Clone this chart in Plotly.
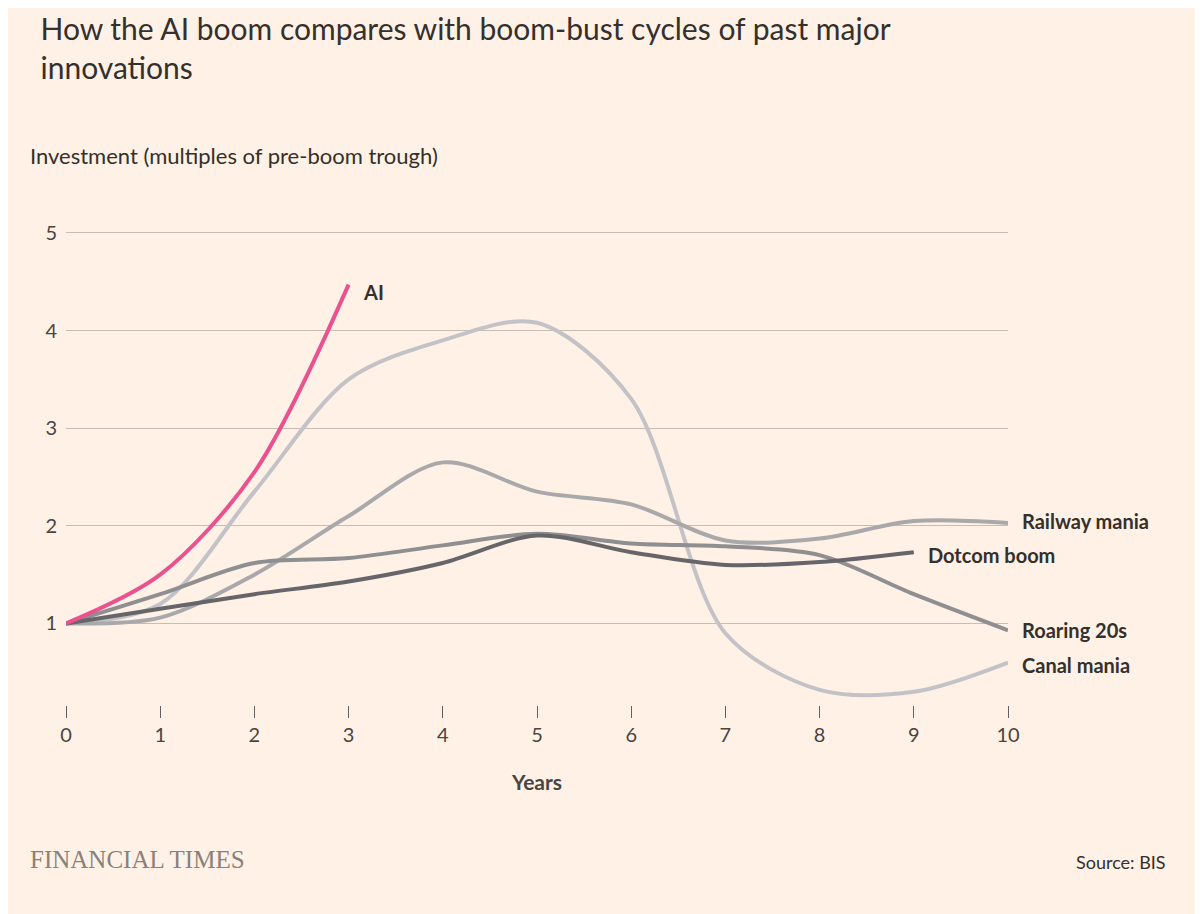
import plotly.graph_objects as go

years = list(range(11))
ai = [1, 1.5, 2.55, 4.47]
canal = [1, 1.2, 2.35, 3.5, 3.9, 4.08, 3.3, 0.9, 0.32, 0.3, 0.6]
railway = [1, 1.06, 1.5, 2.1, 2.65, 2.35, 2.22, 1.85, 1.87, 2.05, 2.03]
roaring = [1, 1.3, 1.62, 1.67, 1.8, 1.92, 1.82, 1.79, 1.7, 1.3, 0.93]
dotcom = [1, 1.15, 1.3, 1.43, 1.62, 1.9, 1.73, 1.6, 1.63, 1.73]

series = [
    ("Canal mania", canal, "#c3c3c7"),
    ("Railway mania", railway, "#a9a9ab"),
    ("Roaring 20s", roaring, "#8f8f92"),
    ("Dotcom boom", dotcom, "#66666a"),
    ("AI", ai, "#e9528f"),
]
label_y = {"Canal mania": 0.57, "Railway mania": 2.05, "Roaring 20s": 0.93,
           "Dotcom boom": 1.7, "AI": 4.4}

fig = go.Figure()
for name, vals, col in series:
    fig.add_trace(go.Scatter(x=years[:len(vals)], y=vals, mode="lines",
                             line=dict(color=col, width=4, shape="spline", smoothing=0.9),
                             hoverinfo="skip", showlegend=False))
    fig.add_annotation(x=len(vals) - 1, y=label_y[name], text="<b>" + name + "</b>",
                       xanchor="left", showarrow=False, xshift=12,
                       font=dict(size=20, color="#33302e"))

fig.update_layout(
    width=1203, height=914, paper_bgcolor="#fff1e5", plot_bgcolor="#fff1e5",
    font=dict(family="Lato, Open Sans, sans-serif", color="#33302e"),
    margin=dict(l=58, r=203, t=222, b=217),
    title=dict(text="How the AI boom compares with boom-bust cycles of past major<br>innovations",
               x=0.027, xanchor="left", y=0.965, yanchor="top",
               font=dict(size=30, color="#33302e")),
    xaxis=dict(range=[0, 10], tickvals=years, ticks="outside", ticklen=12,
               tickcolor="#66605c", showgrid=False, zeroline=False,
               tickfont=dict(size=20, color="#4a4542"),
               title=dict(text="<b>Years</b>", font=dict(size=21, color="#4a4542"), standoff=30)),
    yaxis=dict(range=[0.165, 5.03], tickvals=[1, 2, 3, 4, 5], showgrid=True,
               gridcolor="#c9bdb2", zeroline=False, ticklabelstandoff=8,
               tickfont=dict(size=20, color="#4a4542")),
)
fig.add_annotation(xref="paper", yref="paper", x=-0.04, y=1.125, yanchor="bottom",
                   xanchor="left", showarrow=False,
                   text="Investment (multiples of pre-boom trough)",
                   font=dict(size=22, color="#33302e"))
fig.add_annotation(xref="paper", yref="paper", x=-0.04, y=-0.357, xanchor="left",
                   showarrow=False, text="FINANCIAL TIMES",
                   font=dict(size=25, family="Liberation Serif, serif", color="#8a817a"))
fig.add_annotation(xref="paper", yref="paper", x=1.17, y=-0.357, xanchor="right",
                   showarrow=False, text="Source: BIS",
                   font=dict(size=18, color="#33302e"))
fig.write_html("out.html")
